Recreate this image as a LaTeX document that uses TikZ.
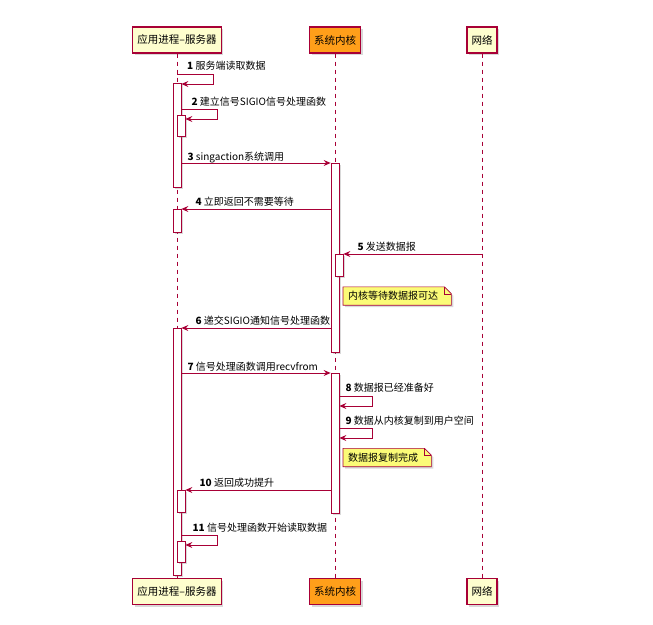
\documentclass[tikz,border=0pt]{standalone}
\usepackage{fontspec}
\setmainfont{Noto Sans CJK SC}
\usetikzlibrary{arrows.meta,positioning,calc,shadows,backgrounds}
\definecolor{seqred}{HTML}{A80036}
\definecolor{partfill}{HTML}{FEFECE}
\definecolor{kernfill}{HTML}{FF9F1A}
\definecolor{notefill}{HTML}{FBFB77}

\begin{document}
\begin{tikzpicture}[x=1pt, y=-1pt,
  shade/.style={drop shadow={shadow xshift=2pt, shadow yshift=-2pt, opacity=0.3}},
  part/.style={rectangle, draw=seqred, line width=1.1pt, fill=partfill,
               minimum height=26pt, inner xsep=4.5pt, shade,
               font=\fontsize{10.5}{12}\selectfont},
  kern/.style={part, fill=kernfill},
  life/.style={draw=seqred, line width=0.5pt, dash pattern=on 4pt off 4pt},
  bar/.style={rectangle, draw=seqred, line width=0.8pt, fill=white,
              minimum width=8pt, inner sep=0pt, shade},
  msg/.style={draw=seqred, line width=0.75pt,
              -{Stealth[length=7pt, width=6pt, inset=2.5pt]}},
  lbl/.style={anchor=base west, inner sep=0pt,
              font=\fontsize{10}{12}\selectfont},
  notetext/.style={anchor=west, inner sep=0pt, minimum height=18pt,
              font=\fontsize{10}{12}\selectfont},
  noteshape/.style={fill=notefill, draw=seqred, line width=0.6pt, shade}
]
\useasboundingbox (0,0) rectangle (653,624);

% participants
\node[part] (pa)  at (177,40)    {应用进程–服务器};
\node[kern] (pk)  at (335,40)    {系统内核};
\node[part] (pn)  at (482,40)    {网络};
\node[part] (pa2) at (177,591.5) {应用进程–服务器};
\node[kern] (pk2) at (335,591.5) {系统内核};
\node[part] (pn2) at (482,591.5) {网络};

\draw[life] (pa.south) -- (pa2.north);
\draw[life] (pk.south) -- (pk2.north);
\draw[life] (pn.south) -- (pn2.north);

% activation bars
\foreach \n/\x/\t/\b in {a1/177/83/187, a2/181/115/136, a3/177/209/232,
                         a4/177/328/575, a5/181/490/512, a6/181/541/562,
                         k1/335/163/352, k2/339/254/276, k3/335/373/513}
  \node[bar, minimum height={(\b-\t)*1pt}] (\n) at (\x,{(\t+\b)/2}) {};

% message levels
\coordinate (m1) at (0,74);
\coordinate (m2) at (0,109);
\coordinate (m3) at (0,163);
\coordinate (m4) at (0,209);
\coordinate (m5) at (0,254);
\coordinate (m6) at (0,328);
\coordinate (m7) at (0,373);
\coordinate (m8) at (0,396);
\coordinate (m9) at (0,428);
\coordinate (m10) at (0,490);
\coordinate (m11) at (0,535);

\draw[msg] (pa |- m1) -- ++(36,0) |- ($(a1.east |- m1)+(0,10)$);
\draw[msg] (a1.east |- m2) -- ++(36,0) |- ($(a2.east |- m2)+(0,10)$);
\draw[msg] (a1.east |- m3) -- (k1.west |- m3);
\draw[msg] (k1.west |- m4) -- (a3.east |- m4);
\draw[msg] (pn |- m5) -- (k2.east |- m5);
\draw[msg] (k1.west |- m6) -- (a4.east |- m6);
\draw[msg] (a4.east |- m7) -- (k3.west |- m7);
\draw[msg] (k3.east |- m8) -- ++(33,0) |- ($(k3.east |- m8)+(0,10)$);
\draw[msg] (k3.east |- m9) -- ++(33,0) |- ($(k3.east |- m9)+(0,10)$);
\draw[msg] (k3.west |- m10) -- (a5.east |- m10);
\draw[msg] (a4.east |- m11) -- ++(36,0) |- ($(a6.east |- m11)+(0,10)$);

\node[lbl] (l1)  at ($(pa |- m1)+(10,-4.5)$)      {\textbf{1} 服务端读取数据};
\node[lbl] (l2)  at ($(a1.east |- m2)+(10,-3.5)$) {\textbf{2} 建立信号SIGIO信号处理函数};
\node[lbl] (l3)  at ($(a1.east |- m3)+(6,-3)$)   {\textbf{3} singaction系统调用};
\node[lbl] (l4)  at ($(a3.east |- m4)+(14,-3.5)$) {\textbf{4} 立即返回不需要等待};
\node[lbl] (l5)  at ($(k2.east |- m5)+(14,-3.5)$) {\textbf{5} 发送数据报};
\node[lbl] (l6)  at ($(a4.east |- m6)+(14,-3.5)$) {\textbf{6} 递交SIGIO通知信号处理函数};
\node[lbl] (l7)  at ($(a4.east |- m7)+(6,-3)$)   {\textbf{7} 信号处理函数调用recvfrom};
\node[lbl] (l8)  at ($(k3.east |- m8)+(6,-4.5)$) {\textbf{8} 数据报已经准备好};
\node[lbl] (l9)  at ($(k3.east |- m9)+(6,-3.5)$) {\textbf{9} 数据从内核复制到用户空间};
\node[lbl] (l10) at ($(a5.east |- m10)+(14,-3.5)$) {\textbf{10} 返回成功提升};
\node[lbl] (l11) at ($(a4.east |- m11)+(11,-4)$) {\textbf{11} 信号处理函数开始读取数据};

% notes
\node[notetext] (n1) at (348,296)   {内核等待数据报可达};
\node[notetext] (n2) at (348,457.5) {数据报复制完成};
\begin{scope}[on background layer]
\foreach \n in {n1,n2} {
  \draw[noteshape] ($(\n.north west)+(-5,0)$) -- ($(\n.north east)+(6,0)$)
    -- ($(\n.north east)+(13,7)$) -- ($(\n.south east)+(13,0)$)
    -- ($(\n.south west)+(-5,0)$) -- cycle;
  \draw[draw=seqred, line width=0.6pt] ($(\n.north east)+(6,0)$)
    |- ($(\n.north east)+(13,7)$);
}
\end{scope}
\end{tikzpicture}
\end{document}
